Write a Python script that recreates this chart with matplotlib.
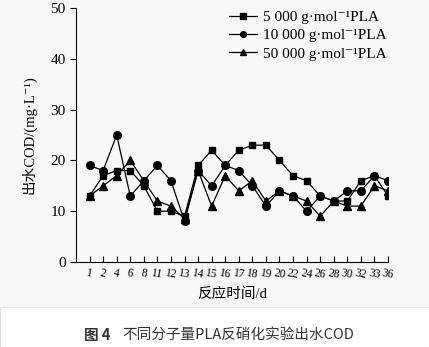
import matplotlib.pyplot as plt
from matplotlib.patches import Rectangle

# sampling days (plotted as evenly spaced categories)
days = ['1', '2', '4', '6', '8', '11', '12', '13', '14', '15', '16', '17',
        '18', '19', '20', '22', '24', '26', '28', '30', '32', '33', '36']

# effluent COD, mg/L
cod_5000 = [13, 17, 18, 18, 15, 10, 10, 9, 19, 22, 19, 22,
            23, 23, 20, 17, 16, 13, 12, 12, 16, 17, 13]
cod_10000 = [19, 18, 25, 13, 16, 19, 16, 8, 18, 15, 19, 18,
             15, 11, 14, 13, 10, 13, 12, 14, 14, 17, 16]
cod_50000 = [13, 15, 17, 20, 16, 12, 11, 8.5, 18, 11, 17, 14,
             16, 12, 14, 13, 12, 9, 12, 11, 11, 15, 14]

labels = ['5 000 g·mol⁻¹PLA', '10 000 g·mol⁻¹PLA', '50 000 g·mol⁻¹PLA']

plt.rcParams['font.family'] = ['Liberation Serif', 'Noto Sans CJK SC', 'DejaVu Serif']

W, H = 429, 347
fig = plt.figure(figsize=(W / 100, H / 100), dpi=100)
fig.patch.set_facecolor('#f8f8f8')
fig.patches.append(Rectangle((0, 0), 1, 1 - 307 / H, transform=fig.transFigure,
                             facecolor='white', edgecolor='#e4e4e4', lw=0.8, zorder=0))

ax = fig.add_axes([76 / W, 1 - 262 / H, (388 - 76) / W, (262 - 8) / H])
ax.set_facecolor('#f8f8f8')

x = list(range(len(days)))
ax.plot(x, cod_5000, '-s', color='black', lw=0.9, ms=5, label=labels[0])
ax.plot(x, cod_10000, '-o', color='black', lw=0.9, ms=5.5, label=labels[1])
ax.plot(x, cod_50000, '-^', color='black', lw=0.9, ms=5.5, label=labels[2])

ax.set_xlim(-1, len(days) - 1)
ax.set_ylim(0, 50)
ax.set_yticks(range(0, 51, 10))
ax.set_xticks(x)
ax.set_xticklabels(days, fontsize=8.5, rotation=-10)
ax.tick_params(axis='x', direction='in', length=4, width=0.8, pad=4)
ax.tick_params(axis='y', direction='out', length=4, width=0.8, labelsize=11)
ax.spines['top'].set_visible(False)
ax.spines['right'].set_visible(False)

ax.set_ylabel('出水COD/(mg·L⁻¹)', fontsize=10.5, labelpad=10)
ax.set_xlabel('反应时间/d', fontsize=10.5, labelpad=4)

ax.legend(loc='upper right', bbox_to_anchor=(1.04, 1.045), frameon=False,
          fontsize=11, handlelength=1.8, handletextpad=0.4, labelspacing=0.3,
          markerscale=0.75)

cap_y = 1 - 335 / H
fig.text(84 / W, cap_y, '图 4', ha='left', va='center', fontsize=10.5,
         fontweight='bold', color='#333333', family=['Noto Sans CJK SC'])
fig.text(122 / W, cap_y, '不同分子量PLA反硝化实验出水COD', ha='left', va='center',
         fontsize=10.5, color='#333333', family=['Noto Sans CJK SC'])

fig.savefig('out.png', dpi=100, facecolor=fig.get_facecolor())
